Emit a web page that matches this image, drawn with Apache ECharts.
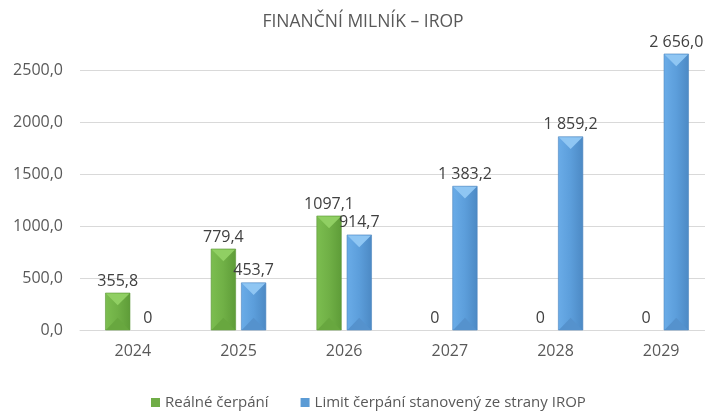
<!DOCTYPE html>
<html>
<head>
<meta charset="utf-8">
<script src="https://cdn.jsdelivr.net/npm/echarts@6/dist/echarts.min.js"></script>
<style>
  html, body { margin: 0; padding: 0; background: #fff; }
  #chart { width: 705px; height: 417px; }
</style>
</head>
<body>
<div id="chart"></div>
<script>
const years = ['2024', '2025', '2026', '2027', '2028', '2029'];
const realne = [355.8, 779.4, 1097.1, 0, 0, 0];
const limit = [0, 453.7, 914.7, 1383.2, 1859.2, 2656.0];
// labels as printed in the source chart
const realneLabels = ['355,8', '779,4', '1097,1', '0', '0', '0'];
const limitLabels = ['0', '453,7', '914,7', '1 383,2', '1 859,2', '2 656,0'];

const FONT = '"Open Sans", sans-serif';

const green = { left: '#7cbe50', mid: '#70b046', right: '#5e9c38', top: '#90cf63', bottom: '#68a73f', edge: '#5b9636' };
const blue = { left: '#6aace8', mid: '#5c9edb', right: '#4c89c4', top: '#8fc6f3', bottom: '#5592cd', edge: '#4b85bd' };

// bevelled bar drawn through the axis scales
function bevelBar(side, shades, labels) {
  return function (params, api) {
    const idx = api.value(0);
    const val = api.value(1);
    const band = api.size([1, 0])[0];
    const w = band * 0.232;
    const base = api.coord([idx, 0]);
    const topPt = api.coord([idx, val]);
    const cx = base[0] + side * band * 0.143;
    const y0 = base[1], y1 = topPt[1];
    const x0 = cx - w / 2, x1 = cx + w / 2;
    const h = y0 - y1;
    const d = Math.min(w / 2, h / 2);
    const children = [];
    if (h > 0) {
      children.push({
        type: 'rect',
        shape: { x: x0, y: y1, width: w, height: h },
        style: {
          fill: new echarts.graphic.LinearGradient(0, 0, 1, 0, [
            { offset: 0, color: shades.left },
            { offset: 0.5, color: shades.mid },
            { offset: 1, color: shades.right }
          ]),
          stroke: shades.edge,
          lineWidth: 0.6
        }
      });
      children.push({
        type: 'polygon',
        shape: { points: [[x0 + 0.5, y1 + 0.5], [x1 - 0.5, y1 + 0.5], [cx, y1 + d]] },
        style: { fill: shades.top }
      });
      children.push({
        type: 'polygon',
        shape: { points: [[x0 + 0.5, y0], [x1 - 0.5, y0], [cx, y0 - d]] },
        style: { fill: shades.bottom }
      });
    }
    children.push({
      type: 'text',
      x: cx,
      y: y1 - 4,
      style: {
        text: labels[params.dataIndex],
        align: 'center',
        verticalAlign: 'bottom',
        fontSize: 16,
        fontFamily: FONT,
        fill: '#404040'
      }
    });
    return { type: 'group', children: children };
  };
}

const chart = echarts.init(document.getElementById('chart'));

chart.setOption({
  animation: false,
  title: {
    text: 'FINANČNÍ MILNÍK – IROP',
    left: 358,
    textAlign: 'center',
    top: 8,
    textStyle: { fontFamily: FONT, fontSize: 17.5, fontWeight: 'normal', color: '#595959' }
  },
  legend: {
    data: ['Reálné čerpání', 'Limit čerpání stanovený ze strany IROP'],
    bottom: 2,
    left: 146,
    icon: 'rect',
    itemWidth: 9,
    itemHeight: 9,
    itemGap: 32,
    textStyle: { fontFamily: FONT, fontSize: 15, color: '#595959' }
  },
  grid: {
    left: 80,
    right: -9,
    top: 39,
    bottom: 87,
    containLabel: false,
    outerBoundsMode: 'none'
  },
  xAxis: {
    type: 'category',
    data: years,
    axisLine: { show: true, lineStyle: { color: '#d9d9d9' } },
    axisTick: { show: false },
    axisLabel: { margin: 13, fontFamily: FONT, fontSize: 16, color: '#595959' }
  },
  yAxis: {
    type: 'value',
    min: 0,
    max: 2800,
    interval: 500,
    axisLine: { show: false },
    axisTick: { show: false },
    axisLabel: {
      margin: 17,
      showMaxLabel: false,
      fontFamily: FONT,
      fontSize: 16,
      color: '#595959',
      formatter: v => v.toFixed(1).replace('.', ',')
    },
    splitLine: { show: true, showMaxLine: false, lineStyle: { color: '#d9d9d9' } }
  },
  series: [
    {
      name: 'Reálné čerpání',
      type: 'custom',
      itemStyle: { color: '#70ad47' },
      renderItem: bevelBar(-1, green, realneLabels),
      data: realne.map((v, i) => [i, v])
    },
    {
      name: 'Limit čerpání stanovený ze strany IROP',
      type: 'custom',
      itemStyle: { color: '#5b9bd5' },
      renderItem: bevelBar(1, blue, limitLabels),
      data: limit.map((v, i) => [i, v])
    }
  ]
});
</script>
</body>
</html>
